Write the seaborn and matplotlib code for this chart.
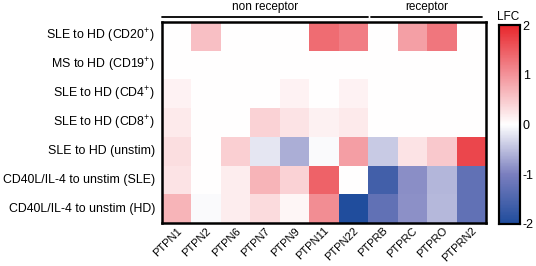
import matplotlib
matplotlib.use("Agg")
import matplotlib.pyplot as plt
import numpy as np
import pandas as pd
import seaborn as sns
from matplotlib.colors import LinearSegmentedColormap

genes = ['PTPN1', 'PTPN2', 'PTPN6', 'PTPN7', 'PTPN9', 'PTPN11', 'PTPN22',
         'PTPRB', 'PTPRC', 'PTPRO', 'PTPRN2']
non_receptor = ['PTPN1', 'PTPN2', 'PTPN6', 'PTPN7', 'PTPN9', 'PTPN11', 'PTPN22']
receptor = ['PTPRB', 'PTPRC', 'PTPRO', 'PTPRN2']

comparisons = ['SLE to HD (CD20$^{+}$)', 'MS to HD (CD19$^{+}$)',
               'SLE to HD (CD4$^{+}$)', 'SLE to HD (CD8$^{+}$)',
               'SLE to HD (unstim)', 'CD40L/IL-4 to unstim (SLE)',
               'CD40L/IL-4 to unstim (HD)']

# log fold changes
lfc_cd20 = [0.0, 0.58, 0.0, 0.0, 0.0, 1.35, 1.2, 0.0, 0.88, 1.25, 0.0]
lfc_cd19 = [0.0, 0.0, 0.0, 0.0, 0.0, 0.0, 0.0, 0.0, 0.0, 0.0, 0.0]
lfc_cd4 = [0.12, 0.0, 0.0, 0.0, 0.12, 0.0, 0.12, 0.0, 0.0, 0.0, 0.0]
lfc_cd8 = [0.2, 0.0, 0.0, 0.42, 0.25, 0.14, 0.2, 0.0, 0.0, 0.0, 0.0]
lfc_unstim = [0.3, 0.0, 0.45, -0.2, -0.64, -0.04, 0.9, -0.42, 0.25, 0.5, 1.7]
lfc_stim_sle = [0.25, 0.0, 0.17, 0.7, 0.42, 1.45, 0.0, -1.62, -0.89, -0.57, -1.27]
lfc_stim_hd = [0.7, -0.04, 0.17, 0.33, 0.08, 1.05, -1.97, -1.27, -0.86, -0.55, -1.27]

df = pd.DataFrame([lfc_cd20, lfc_cd19, lfc_cd4, lfc_cd8, lfc_unstim,
                   lfc_stim_sle, lfc_stim_hd], index=comparisons, columns=genes)

sns.set_theme(style="white")
plt.rcParams['font.family'] = ['Liberation Sans', 'DejaVu Sans']
plt.rcParams['mathtext.fontset'] = 'custom'
plt.rcParams['mathtext.rm'] = 'Liberation Sans'
plt.rcParams['text.color'] = 'black'
plt.rcParams['xtick.color'] = 'black'
plt.rcParams['ytick.color'] = 'black'

# blue side goes through a lavender, red side straight to white
cmap = LinearSegmentedColormap.from_list(
    'lfc', [(0.0, '#1f4c9c'), (0.25, '#7b7fbf'), (0.5, '#ffffff'),
            (0.75, '#f3939a'), (1.0, '#e8262b')])

fig = plt.figure(figsize=(5.36, 2.66), dpi=100)
ax = fig.add_axes([0.302, 0.162, 0.605, 0.755])
cax = fig.add_axes([0.931, 0.158, 0.039, 0.748])

sns.heatmap(df, ax=ax, cbar_ax=cax, cmap=cmap, vmin=-2, vmax=2,
            linewidths=0, cbar_kws={'ticks': [-2, -1, 0, 1, 2]})

ax.tick_params(axis='y', labelsize=8.9, rotation=0, length=0, pad=5)
ax.tick_params(axis='x', labelsize=8, length=0, pad=2)
plt.setp(ax.get_xticklabels(), rotation=45, ha='right', rotation_mode='anchor')
ax.set_xlabel('')
ax.set_ylabel('')
for s in ax.spines.values():
    s.set_visible(True)
    s.set_linewidth(1.8)
    s.set_color('black')

# group brackets above the heatmap
tr = ax.get_xaxis_transform()
groups = [('non receptor', non_receptor), ('receptor', receptor)]
for name, members in groups:
    i0 = genes.index(members[0])
    i1 = genes.index(members[-1]) + 1
    x0 = i0 + (0.1 if i0 > 0 else 0.0)
    x1 = i1 - (0.15 if i1 == len(genes) else 0.0)
    ax.plot([x0, x1], [1.025, 1.025], color='black', lw=1.3,
            transform=tr, clip_on=False)
    ax.text((x0 + x1) / 2, 1.045, name, transform=tr, ha='center',
            va='bottom', fontsize=8.5)

cax.tick_params(direction='in', left=True, right=True, length=3, width=1.2,
                labelsize=9, pad=2, color='black')
for s in cax.spines.values():
    s.set_visible(True)
    s.set_linewidth(1.5)
    s.set_color('black')
cax.set_yticklabels(['-2', '-1', '0', '1', '2'])
cax.text(0.45, 1.01, 'LFC', transform=cax.transAxes, ha='center',
         va='bottom', fontsize=8.5)

fig.savefig('out.png', dpi=100)
